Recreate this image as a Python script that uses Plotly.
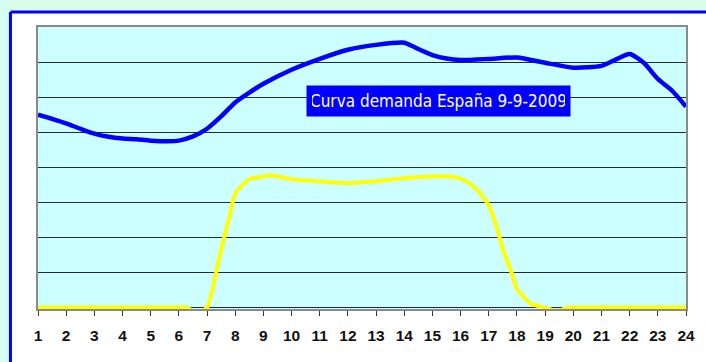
import plotly.graph_objects as go

# Hourly electricity demand (blue) and solar generation (yellow), 9-9-2009,
# expressed in gridline units (0-8); readings include some half-hour points.
demand_hours = [1, 1.5, 2, 2.5, 3, 3.5, 4, 4.5, 5, 6, 6.5, 7, 7.5, 8, 8.5, 9,
                10, 11, 12, 13, 14, 14.3, 14.7, 15, 15.5, 16, 17, 18, 19, 20,
                21, 21.5, 22, 22.5, 23, 23.5, 24]
demand_values = [5.50, 5.38, 5.25, 5.10, 4.96, 4.87, 4.82, 4.80, 4.76, 4.76, 4.88,
                 5.10, 5.45, 5.85, 6.13, 6.38, 6.78, 7.09, 7.35, 7.49, 7.55, 7.45,
                 7.30, 7.20, 7.10, 7.06, 7.09, 7.13, 6.98, 6.84, 6.89, 7.07, 7.23,
                 6.98, 6.52, 6.19, 5.73]

solar_hours = [1, 2, 3, 4, 5, 6, 6.3, 6.6, 7, 7.2, 7.4, 7.6, 7.8, 8, 8.5, 9, 9.3,
               10, 11, 12, 13, 14, 15, 15.8, 16.2, 16.6, 17, 17.3, 17.5, 17.8, 18,
               18.5, 19, 19.4, 19.8, 20, 21, 22, 23, 24]
solar_values = [0, 0, 0, 0, 0, 0, 0, -0.15, 0, 0.54, 1.30, 1.97, 2.60, 3.25, 3.66,
                3.74, 3.77, 3.66, 3.60, 3.55, 3.60, 3.69, 3.74, 3.72, 3.60, 3.35,
                2.92, 2.24, 1.67, 1.02, 0.54, 0.11, 0, -0.1, 0, 0, 0, 0, 0, 0]

hour_ticks = list(range(1, 25))
chart_title = "Curva demanda España 9-9-2009"

fig = go.Figure()
fig.add_trace(go.Scatter(x=solar_hours, y=solar_values, mode="lines",
                         line=dict(color="#ffff00", width=4, shape="spline", smoothing=0.6),
                         hoverinfo="skip"))
fig.add_trace(go.Scatter(x=demand_hours, y=demand_values, mode="lines",
                         line=dict(color="#0000ff", width=4.5, shape="spline", smoothing=0.6),
                         hoverinfo="skip"))

fig.update_layout(
    width=706, height=362,
    margin=dict(l=38, r=20, t=27, b=53),
    paper_bgcolor="#ffffff",
    plot_bgcolor="#ccffff",
    showlegend=False,
    xaxis=dict(range=[1, 24], tickmode="array", tickvals=hour_ticks,
               ticktext=[str(h) for h in hour_ticks],
               showgrid=False, zeroline=False,
               showline=True, linecolor="#8a8a8a", linewidth=2, mirror=True,
               ticks="outside", ticklen=5, tickcolor="#333333", tickwidth=1,
               tickfont=dict(family="Liberation Sans, Arial", size=15.5, color="#111111",
                             weight="bold"),
               ticklabelstandoff=6),
    yaxis=dict(range=[-0.04, 8], dtick=1, showticklabels=False, ticks="",
               showgrid=True, gridcolor="#2a2a2a", gridwidth=1, zeroline=False,
               showline=True, linecolor="#8a8a8a", linewidth=2, mirror=True),
    shapes=[
        # light band round the outer frame
        dict(type="rect", xref="paper", yref="paper", x0=-0.06, x1=1.1, y0=1.05, y1=1.2,
             fillcolor="#d9fde9", line=dict(width=0), layer="below"),
        dict(type="rect", xref="paper", yref="paper", x0=-0.06, x1=-0.0425, y0=-0.2, y1=1.2,
             fillcolor="#d6fdf2", line=dict(width=0), layer="below"),
        # blue frame lines
        dict(type="line", xref="paper", yref="paper", x0=-0.0425, x1=1.1, y0=1.0535, y1=1.0535,
             line=dict(color="#0000ff", width=3)),
        dict(type="line", xref="paper", yref="paper", x0=-0.0425, x1=-0.0425, y0=-0.2, y1=1.0535,
             line=dict(color="#0000ff", width=3)),
    ],
    annotations=[dict(text=chart_title, xref="paper", yref="paper", x=0.618, y=0.736,
                      xanchor="center", yanchor="middle", showarrow=False,
                      font=dict(family="Liberation Sans Narrow, DejaVu Sans Condensed, Liberation Sans",
                                size=17, color="#ffffff"),
                      bgcolor="#0000ff", borderpad=5, width=253)],
)

fig.write_html("out.html")
